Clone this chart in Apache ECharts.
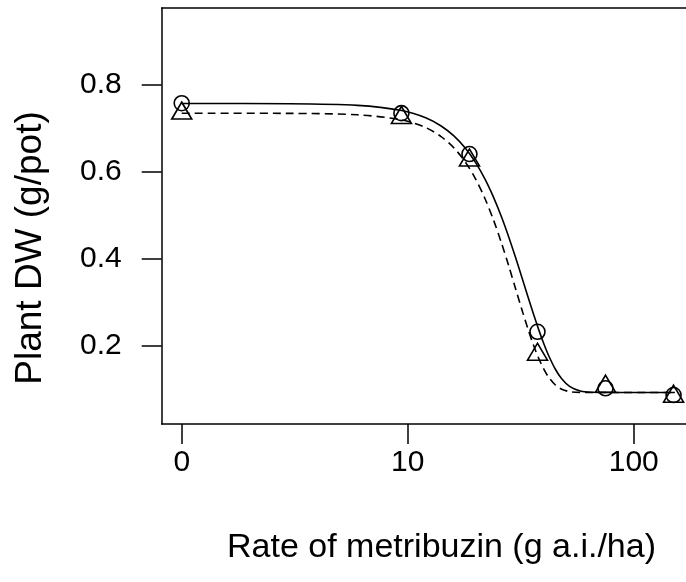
<!DOCTYPE html>
<html>
<head>
<meta charset="utf-8">
<script src="https://cdn.jsdelivr.net/npm/echarts@6/dist/echarts.min.js"></script>
<style>
html,body{margin:0;padding:0;background:#fff;}
#chart{width:686px;height:582px;}
</style>
</head>
<body>
<div id="chart"></div>
<script>
// ---- data ----
// doses (g a.i./ha); dose 0 is drawn at the axis position labelled "0" (=1 on the log scale)
var doses = [0, 9.375, 18.75, 37.5, 75, 150];
var zeroDosePosition = 1;
var circleValues = [0.758, 0.735, 0.641, 0.232, 0.102, 0.0865];
var triangleValues = [0.7345, 0.7245, 0.6265, 0.1795, 0.106, 0.083];

// fitted curves, values
var solidDose  = [1, 3, 6, 9.41, 12, 14, 16, 18, 20, 22, 24, 26, 28, 30, 32, 34, 36, 38, 40, 42, 45, 48, 52, 58, 65, 80, 152];
var solidValue = [0.7574, 0.7568, 0.753, 0.741, 0.7244, 0.706, 0.6826, 0.6541, 0.6206, 0.5826, 0.5406, 0.496, 0.4496, 0.4028, 0.357, 0.3133, 0.2728, 0.2364, 0.2045, 0.1775, 0.1458, 0.1239, 0.1063, 0.0955, 0.0927, 0.0923, 0.0923];
var dashedDose  = [1, 3, 6, 9.41, 12, 14, 16, 18, 20, 22, 24, 26, 28, 30, 32, 34, 36, 38, 40, 42, 45, 48, 52, 58, 65, 80, 152];
var dashedValue = [0.7349, 0.7345, 0.7312, 0.7195, 0.7019, 0.6817, 0.6552, 0.6221, 0.5827, 0.5376, 0.4881, 0.4359, 0.383, 0.3312, 0.2827, 0.239, 0.2014, 0.1704, 0.1458, 0.1275, 0.1095, 0.0998, 0.0943, 0.0925, 0.0923, 0.0923, 0.0923];

var xTickValues = [1, 10, 100];
var xTickLabels = ['0', '10', '100'];
var yTickValues = [0.2, 0.4, 0.6, 0.8];
var yTickLabels = ['0.2', '0.4', '0.6', '0.8'];

var xTitle = 'Rate of metribuzin (g a.i./ha)';
var yTitle = 'Plant DW (g/pot)';

// ---- build ----
function plotDose(d){ return d === 0 ? zeroDosePosition : d; }
function zip(xs, ys){ return xs.map(function(x,i){ return [plotDose(x), ys[i]]; }); }

var FONT = '"Liberation Sans", Arial, Helvetica, sans-serif';
var X_MIN = 0.8155, X_MAX = 243.2;
var boxLine = {show: true, onZero: false, lineStyle: {color: '#000', width: 1.5}};
var chart = echarts.init(document.getElementById('chart'), null, {renderer:'canvas'});
chart.setOption({
  animation: false,
  backgroundColor: '#ffffff',
  grid: {
    left: 161.7, top: 8, width: 559.3, height: 416,
    outerBoundsMode: 'none', containLabel: false, show: false
  },
  xAxis: [{
    type: 'log', logBase: 10, position: 'bottom',
    min: X_MIN, max: X_MAX,
    axisLine: boxLine,
    splitLine: {show: false},
    minorTick: {show: false},
    axisTick: {show: true, length: 20, customValues: xTickValues, lineStyle: {color: '#000', width: 1.5}},
    axisLabel: {
      customValues: xTickValues, margin: 24, color: '#000', fontSize: 30, fontFamily: FONT,
      formatter: function(v){ var i = xTickValues.indexOf(v); return i >= 0 ? xTickLabels[i] : ''; }
    }
  }, {
    type: 'log', logBase: 10, position: 'top',
    min: X_MIN, max: X_MAX,
    axisLine: boxLine,
    splitLine: {show: false}, minorTick: {show: false},
    axisTick: {show: false}, axisLabel: {show: false}
  }],
  yAxis: {
    type: 'value', min: 0.0198, max: 0.977,
    axisLine: boxLine,
    splitLine: {show: false},
    axisTick: {show: true, length: 20, customValues: yTickValues, lineStyle: {color: '#000', width: 1.5}},
    axisLabel: {
      customValues: yTickValues, margin: 40, color: '#000', fontSize: 30, fontFamily: FONT,
      formatter: function(v){ var i = yTickValues.findIndex(function(t){return Math.abs(t-v)<1e-9;}); return i >= 0 ? yTickLabels[i] : ''; }
    }
  },
  graphic: [
    {type: 'text', x: 441.5, y: 548, style: {text: xTitle, fill: '#000', font: '34px ' + FONT, textAlign: 'center', textVerticalAlign: 'middle'}},
    {type: 'text', x: 31, y: 248, rotation: Math.PI/2, style: {text: yTitle, fill: '#000', font: '37px ' + FONT, textAlign: 'center', textVerticalAlign: 'middle'}}
  ],
  series: [
    {type: 'line', data: zip(solidDose, solidValue), showSymbol: false, smooth: 0.3,
     lineStyle: {color: '#000', width: 1.6, type: 'solid'}, z: 2},
    {type: 'line', data: zip(dashedDose, dashedValue), showSymbol: false, smooth: 0.3,
     lineStyle: {color: '#000', width: 1.6, type: [8, 5]}, z: 2},
    {type: 'scatter', data: zip(doses, circleValues), symbol: 'circle', symbolSize: 15,
     itemStyle: {color: 'rgba(0,0,0,0)', borderColor: '#000', borderWidth: 1.6, opacity: 1}, z: 3},
    {type: 'scatter', data: zip(doses, triangleValues), symbol: 'triangle', symbolSize: [20, 17], symbolOffset: [0, -2.8],
     itemStyle: {color: 'rgba(0,0,0,0)', borderColor: '#000', borderWidth: 1.6, opacity: 1}, z: 3}
  ]
});
</script>
</body>
</html>
